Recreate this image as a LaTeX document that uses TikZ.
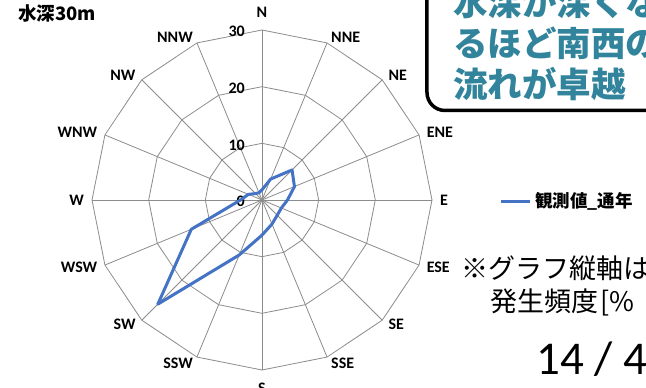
\documentclass[tikz,border=0pt]{standalone}
\usepackage{fontspec}
\setmainfont{Carlito}
\newfontfamily\jpfont{Noto Sans CJK JP}
\usetikzlibrary{positioning}
\definecolor{obsblue}{HTML}{4472C4}
\definecolor{calloutteal}{HTML}{31849B}
\definecolor{gridgray}{HTML}{8C8C8C}

\begin{document}
\begin{tikzpicture}[
    x=1pt, y=1pt,
    gridline/.style={draw=gridgray, line width=0.8pt},
    dirlabel/.style={font=\fontsize{16}{19}\selectfont\bfseries, inner sep=1.5pt},
    axislabel/.style={font=\fontsize{16}{19}\selectfont\bfseries, inner sep=2pt, anchor=east},
    obsline/.style={draw=obsblue, line width=3pt, line join=round},
    calloutbox/.style={draw=black, line width=3.5pt, fill=white, rounded corners=18pt},
    callouttext/.style={font=\jpfont\fontsize{34.5}{41}\selectfont\bfseries, text=calloutteal, anchor=base west, inner sep=0pt},
    jplabel/.style={font=\jpfont\fontsize{18.5}{22}\selectfont\bfseries, anchor=west, inner sep=0pt},
    legendtext/.style={font=\jpfont\fontsize{17.5}{21}\selectfont\bfseries, anchor=west, inner sep=0pt},
    notetext/.style={font=\jpfont\fontsize{27}{32}\selectfont, anchor=west, inner sep=0pt},
    pagenum/.style={font=\fontsize{47}{52}\selectfont, anchor=west, inner sep=0pt}
]

% page frame, chart centre at the origin
\useasboundingbox (-262,-188) rectangle (384,200);
\clip (-262,-188) rectangle (384,200);
\fill[white] (-262,-188) rectangle (384,200);

% rings 10, 20, 30
\foreach \r in {10,20,30}
  \draw[gridline] (90:\r*17/3) \foreach \a in {1,...,15} { -- (90-22.5*\a:\r*17/3) } -- cycle;

% spokes
\foreach \a in {0,22.5,...,337.5}
  \draw[gridline] (0,0) -- (\a:170);

% axis values
\foreach \r in {0,10,20,30}
  \node[axislabel] (val\r) at (-15,\r*17/3-1.5) {\r};

% directions
\foreach \lab/\ang/\anc/\rr in {N/90/south/181, NNE/67.5/west/176.5, NE/45/west/176.5,
    ENE/22.5/west/176.5, E/0/west/176.5, ESE/-22.5/west/176.5, SE/-45/west/176.5,
    SSE/-67.5/west/176.5, S/-90/north/181, SSW/-112.5/east/176.5, SW/-135/east/176.5,
    WSW/-157.5/east/176.5, W/180/east/176.5, WNW/157.5/east/176.5, NW/135/east/176.5,
    NNW/112.5/east/176.5}
  \node[dirlabel, anchor=\anc] (dir\lab) at (\ang:\rr) {\lab};

% observed frequency, N clockwise
\foreach \v [count=\i from 0] in {1.8,4.0,7.5,6.2,4.5,3.7,3.8,4.6,6.2,10.5,26.0,13.5,3.8,2.6,1.6,1.4}
  \coordinate (obs\i) at (90-22.5*\i:\v*17/3);
\draw[obsline] (obs0) \foreach \i in {1,...,15} { -- (obs\i) } -- cycle;

% title
\node[jplabel] (depth) at (-244,187) {水深30m};

% legend
\node[legendtext] (legtext) at (273,-1.7) {観測値\_通年};
\coordinate (legL) at (239,-1.7);
\coordinate (legR) at (268,-1.7);
\draw[obsline] (legL) -- (legR);

% callout
\draw[calloutbox] (165,89.5) rectangle (420,240);
\foreach \txt [count=\i] in {水深が深くな, るほど南西の, 流れが卓越}
  \node[callouttext] (msg\i) at (191,225-41*\i) {\txt};

% note and page number
\node[notetext] (note1) at (199,-68) {※グラフ縦軸は};
\node[notetext] (note2) at (228,-102) {発生頻度\kern2pt[\%};
\node[pagenum] (pagenum) at (274,-159) {14 / 4};

\end{tikzpicture}
\end{document}
